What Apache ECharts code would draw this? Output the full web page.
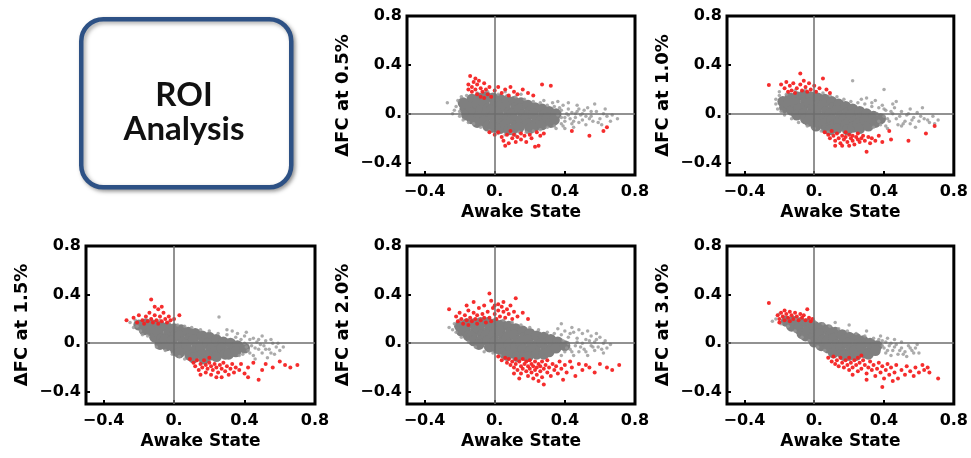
<!DOCTYPE html>
<html>
<head>
<meta charset="utf-8">
<script src="https://cdn.jsdelivr.net/npm/echarts@6/dist/echarts.min.js"></script>
<style>
  html, body { margin: 0; padding: 0; background: #fff; }
  #chart { width: 971px; height: 458px; }
</style>
</head>
<body>
<div id="chart"></div>
<script>
// Shared axis ticks and their printed text
const tickValues = [-0.4, 0, 0.4, 0.8];
const tickText = ["\u22120.4", "0.", "0.4", "0.8"];
const xTitle = "Awake State";
const panelTitles = ["\u0394FC at 0.5%", "\u0394FC at 1.0%", "\u0394FC at 1.5%", "\u0394FC at 2.0%", "\u0394FC at 3.0%"];

// ---- 0.5% ----
const core05 = [
  [-0.17,0.04],[-0.18,0.09],[-0.16,-0.01],
  [-0.13,0.12],[-0.14,0.06],[-0.12,0.01],[-0.13,-0.04],
  [-0.09,0.13],[-0.10,0.08],[-0.08,0.03],[-0.09,-0.02],[-0.10,-0.07],
  [-0.05,0.14],[-0.06,0.09],[-0.04,0.04],[-0.05,-0.01],[-0.06,-0.06],[-0.04,-0.10],
  [-0.01,0.13],[0.00,0.08],[-0.02,0.03],[-0.01,-0.02],[0.00,-0.07],[-0.01,-0.11],
  [0.03,0.12],[0.04,0.07],[0.02,0.02],[0.03,-0.03],[0.04,-0.08],[0.03,-0.12],
  [0.07,0.11],[0.06,0.06],[0.08,0.01],[0.07,-0.04],[0.06,-0.09],[0.08,-0.13],
  [0.11,0.10],[0.12,0.05],[0.10,0.00],[0.11,-0.05],[0.12,-0.10],[0.10,-0.13],
  [0.15,0.09],[0.14,0.04],[0.16,-0.01],[0.15,-0.06],[0.14,-0.11],
  [0.19,0.07],[0.20,0.02],[0.18,-0.03],[0.19,-0.08],[0.20,-0.12],
  [0.23,0.05],[0.22,0.00],[0.24,-0.05],[0.23,-0.10],
  [0.27,0.04],[0.28,-0.01],[0.26,-0.06],[0.27,-0.09],
  [0.31,0.02],[0.30,-0.03],[0.32,-0.07],
  [0.35,0.00],[0.34,-0.05]
];
const spread05 = [
  [-0.27,0.09],[-0.22,0.06],[-0.21,0.11],[-0.20,0.02],[-0.23,0.03],[-0.19,0.14],[-0.16,0.15],[-0.20,-0.02],
  [-0.10,0.17],[-0.04,0.18],[0.02,0.16],[0.07,0.15],[0.12,0.14],[0.17,0.12],[0.22,0.10],[0.26,0.09],
  [0.30,0.07],[0.34,0.06],[0.06,0.18],[0.15,0.16],
  [-0.12,-0.08],[-0.08,-0.11],[-0.03,-0.14],[0.02,-0.16],[0.06,-0.17],[0.10,-0.16],[0.14,-0.15],
  [0.18,-0.15],[0.22,-0.14],[0.26,-0.13],[0.30,-0.11],[0.34,-0.10],
  [0.38,-0.08],[0.38,-0.03],[0.38,0.03],[0.40,-0.06],[0.42,-0.01],[0.42,0.04],[0.44,-0.08],
  [0.46,-0.03],[0.47,0.02],[0.50,-0.05],[0.50,0.00],[0.52,-0.09],[0.53,0.05],[0.55,-0.02],
  [0.56,-0.06],[0.58,0.02],[0.60,-0.04],[0.62,0.00],[0.64,-0.02],[0.66,-0.06],[0.70,-0.04],
  [0.57,0.08],[0.47,0.07],[0.42,0.09],[0.36,0.10],[0.61,-0.09],[0.45,-0.11],[0.40,-0.12],
  [0.36,-0.01],[0.37,0.05],[0.39,-0.10],[0.41,0.00],[0.43,-0.04],[0.44,0.01],[0.48,-0.07],
  [0.49,-0.01],[0.51,0.03],[0.54,-0.04],
  [0.39,0.07],[0.45,-0.06],[0.48,0.04],[0.52,-0.02],[0.55,0.02],[0.59,-0.07],[0.63,0.04],
  [0.67,-0.01],[0.40,-0.03],[0.46,0.00],[0.35,-0.12],[0.33,0.09],[0.28,0.11],[-0.24,0.00],
  [-0.18,-0.05],[-0.15,-0.07],[0.12,-0.18],[0.20,-0.16]
];
const red05 = [
  [-0.14,0.31],[-0.15,0.24],[-0.13,0.22],[-0.12,0.26],[-0.11,0.20],[-0.10,0.24],[-0.09,0.27],
  [-0.08,0.21],[-0.07,0.18],[-0.06,0.25],[-0.05,0.20],[-0.04,0.16],[-0.13,0.18],[-0.10,0.16],
  [-0.03,0.22],[-0.02,0.14],[-0.08,0.14],[-0.06,0.13],[-0.15,0.20],[-0.11,0.29],
  [0.00,0.19],[0.02,0.22],[0.04,0.17],[0.06,0.20],[0.09,0.22],[0.11,0.18],[0.13,0.16],
  [0.16,0.20],[0.19,0.17],[0.22,0.15],[0.27,0.24],[0.32,0.23],[0.08,0.15],
  [0.02,-0.15],[0.04,-0.19],[0.05,-0.22],[0.07,-0.17],[0.08,-0.24],[0.10,-0.20],[0.11,-0.17],
  [0.12,-0.23],[0.13,-0.19],[0.15,-0.16],[0.15,-0.21],[0.17,-0.18],[0.18,-0.23],[0.20,-0.17],
  [0.21,-0.20],[0.23,-0.27],[0.24,-0.15],[0.26,-0.18],[0.28,-0.16],[0.25,-0.26],[0.09,-0.14],
  [0.06,-0.26],[-0.03,-0.15],[0.00,-0.17],
  [0.54,-0.18],[0.62,-0.14],[0.64,-0.11],[0.44,-0.14]
];

// ---- 1.0% ----
const core10 = [
  [-0.18,0.10],[-0.17,0.05],
  [-0.14,0.13],[-0.15,0.08],[-0.13,0.03],
  [-0.10,0.14],[-0.11,0.09],[-0.09,0.04],[-0.10,-0.01],
  [-0.06,0.15],[-0.05,0.10],[-0.07,0.05],[-0.06,0.00],[-0.05,-0.04],
  [-0.02,0.14],[-0.03,0.09],[-0.01,0.04],[-0.02,-0.01],[-0.03,-0.06],
  [0.02,0.13],[0.03,0.08],[0.01,0.03],[0.02,-0.02],[0.03,-0.07],[0.01,-0.10],
  [0.06,0.12],[0.05,0.07],[0.07,0.02],[0.06,-0.03],[0.05,-0.08],[0.07,-0.12],
  [0.10,0.10],[0.11,0.05],[0.09,0.00],[0.10,-0.05],[0.11,-0.10],[0.09,-0.13],
  [0.14,0.08],[0.13,0.03],[0.15,-0.02],[0.14,-0.07],[0.13,-0.12],
  [0.18,0.06],[0.19,0.01],[0.17,-0.04],[0.18,-0.09],[0.19,-0.13],
  [0.22,0.04],[0.21,-0.01],[0.23,-0.06],[0.22,-0.11],
  [0.26,0.02],[0.27,-0.03],[0.25,-0.08],[0.26,-0.12],
  [0.30,0.00],[0.29,-0.05],[0.31,-0.10],
  [0.34,-0.02],[0.35,-0.07],
  [0.38,-0.04]
];
const spread10 = [
  [-0.22,0.12],[-0.22,0.08],[-0.20,0.15],[-0.19,0.02],[-0.16,0.16],[-0.17,-0.01],
  [-0.11,0.19],[-0.05,0.20],[0.01,0.18],[0.05,0.17],[0.09,0.15],[0.13,0.14],[0.17,0.12],
  [0.21,0.10],[0.25,0.09],[0.29,0.08],[0.33,0.06],[0.37,0.05],[0.22,0.27],[0.40,0.20],
  [0.30,0.13],[0.45,0.08],[0.35,0.11],
  [-0.13,-0.04],[-0.09,-0.07],[-0.04,-0.10],[0.00,-0.12],[0.04,-0.14],[0.08,-0.15],
  [0.34,-0.11],[0.38,-0.09],[0.42,-0.12],
  [0.40,-0.02],[0.41,0.03],[0.43,-0.06],[0.45,0.00],[0.47,-0.04],[0.48,-0.09],[0.50,0.02],
  [0.52,-0.06],[0.53,-0.01],[0.55,-0.08],[0.57,-0.03],[0.59,0.01],[0.60,-0.06],[0.62,0.05],
  [0.63,-0.04],[0.66,-0.07],[0.68,-0.02],[0.71,-0.05],[0.58,-0.11],[0.46,0.05],[0.39,0.07],
  [0.36,0.00],[0.42,-0.04],[0.50,-0.10],[0.55,0.04],
  [0.41,-0.10],[0.44,0.02],[0.49,-0.02],[0.51,-0.08],[0.54,0.00],[0.56,-0.05],[0.61,-0.02],
  [0.65,-0.05],[0.69,-0.08],[0.40,0.04],[0.37,-0.06],[0.33,0.09],[0.27,0.12],[-0.21,0.04],
  [-0.20,0.18],[0.47,0.10]
];
const red10 = [
  [-0.26,0.235],[-0.19,0.24],[-0.17,0.21],[-0.16,0.26],[-0.14,0.23],[-0.13,0.19],[-0.12,0.25],
  [-0.10,0.21],[-0.08,0.33],[-0.08,0.24],[-0.07,0.19],[-0.06,0.27],[-0.05,0.22],[-0.04,0.18],
  [-0.03,0.25],[-0.02,0.20],[0.00,0.23],[0.01,0.18],[0.05,0.29],[0.03,0.21],[0.07,0.20],
  [0.09,0.17],[-0.15,0.18],[-0.11,0.17],
  [0.06,-0.15],[0.08,-0.17],[0.09,-0.20],[0.10,-0.14],[0.11,-0.18],[0.12,-0.22],[0.13,-0.16],
  [0.14,-0.20],[0.15,-0.24],[0.16,-0.18],[0.17,-0.21],[0.18,-0.15],[0.18,-0.19],[0.19,-0.23],
  [0.20,-0.17],[0.21,-0.20],[0.22,-0.22],[0.22,-0.18],[0.23,-0.25],[0.24,-0.19],[0.25,-0.21],
  [0.25,-0.16],[0.26,-0.23],[0.27,-0.20],[0.28,-0.18],[0.29,-0.22],[0.30,-0.31],[0.31,-0.19],
  [0.32,-0.24],[0.33,-0.20],[0.20,-0.26],[0.16,-0.26],[0.12,-0.26],[0.35,-0.22],[0.39,-0.23],
  [0.43,-0.14],[0.54,-0.22],[0.64,-0.16],[0.69,-0.10],[0.37,-0.18],[0.44,-0.21]
];

// ---- 1.5% ----
const core15 = [
  [-0.20,0.15],
  [-0.16,0.16],[-0.17,0.11],
  [-0.12,0.15],[-0.13,0.10],[-0.11,0.05],
  [-0.08,0.14],[-0.09,0.09],[-0.07,0.04],[-0.08,-0.01],
  [-0.04,0.13],[-0.03,0.08],[-0.05,0.03],[-0.04,-0.02],
  [0.00,0.12],[0.01,0.07],[-0.01,0.02],[0.00,-0.03],[0.01,-0.06],
  [0.04,0.11],[0.03,0.06],[0.05,0.01],[0.04,-0.04],[0.03,-0.08],
  [0.08,0.09],[0.09,0.04],[0.07,-0.01],[0.08,-0.06],[0.09,-0.10],
  [0.12,0.08],[0.11,0.03],[0.13,-0.02],[0.12,-0.07],[0.11,-0.12],
  [0.16,0.06],[0.17,0.01],[0.15,-0.04],[0.16,-0.09],[0.17,-0.13],
  [0.20,0.05],[0.19,0.00],[0.21,-0.05],[0.20,-0.10],
  [0.24,0.03],[0.25,-0.02],[0.23,-0.07],[0.24,-0.11],
  [0.28,0.01],[0.27,-0.04],[0.29,-0.09],
  [0.32,0.00],[0.33,-0.05],[0.31,-0.09],
  [0.36,-0.02],[0.35,-0.07],
  [0.40,-0.04]
];
const spread15 = [
  [-0.25,0.17],[-0.23,0.13],[-0.22,0.19],[-0.19,0.10],[-0.15,0.06],
  [-0.13,0.20],[-0.08,0.19],[-0.03,0.17],[0.02,0.15],[0.06,0.14],[0.10,0.13],[0.15,0.11],
  [0.20,0.10],[0.25,0.08],[0.30,0.07],[0.35,0.05],[0.255,0.215],[0.30,0.11],[0.40,0.06],
  [0.45,0.04],[0.50,0.06],[0.55,0.03],
  [-0.10,-0.03],[-0.05,-0.06],[-0.01,-0.09],[0.03,-0.11],[0.06,-0.13],
  [0.40,0.00],[0.42,-0.06],[0.44,-0.02],[0.45,-0.10],[0.47,0.01],[0.48,-0.05],[0.50,-0.08],
  [0.51,-0.02],[0.53,-0.12],[0.54,-0.05],[0.56,0.00],[0.57,-0.09],[0.52,0.02],[0.43,0.03],
  [0.38,0.03],[0.39,-0.09],[0.46,-0.13],[0.60,-0.06],[0.58,-0.03],
  [0.41,-0.03],[0.43,-0.08],[0.46,-0.04],[0.49,-0.01],[0.52,-0.05],[0.55,-0.08],[0.59,0.00],
  [0.62,-0.03],[0.37,-0.10],[0.36,0.08],[0.41,0.09],[0.33,0.10],[-0.21,0.14],[-0.18,0.07],
  [0.48,0.03]
];
const red15 = [
  [-0.27,0.19],[-0.23,0.21],[-0.21,0.17],[-0.20,0.23],[-0.18,0.19],[-0.17,0.16],[-0.16,0.22],
  [-0.15,0.18],[-0.14,0.25],[-0.13,0.36],[-0.13,0.20],[-0.12,0.17],[-0.11,0.23],[-0.10,0.19],
  [-0.09,0.28],[-0.09,0.16],[-0.08,0.22],[-0.07,0.18],[-0.06,0.25],[-0.05,0.20],[-0.04,0.17],
  [-0.03,0.22],[-0.02,0.19],[0.03,0.23],[0.00,0.20],[-0.11,0.30],[-0.07,0.30],
  [0.09,-0.13],[0.11,-0.16],[0.12,-0.19],[0.13,-0.14],[0.14,-0.22],[0.15,-0.17],[0.16,-0.20],
  [0.17,-0.14],[0.18,-0.24],[0.18,-0.18],[0.19,-0.21],[0.20,-0.16],[0.21,-0.19],[0.21,-0.26],
  [0.22,-0.22],[0.23,-0.17],[0.24,-0.20],[0.25,-0.24],[0.26,-0.18],[0.27,-0.28],[0.27,-0.21],
  [0.28,-0.16],[0.29,-0.23],[0.30,-0.19],[0.31,-0.26],[0.32,-0.21],[0.33,-0.17],[0.34,-0.24],
  [0.35,-0.20],[0.37,-0.22],[0.38,-0.17],[0.40,-0.25],[0.42,-0.28],[0.42,-0.20],[0.45,-0.16],
  [0.48,-0.30],[0.50,-0.22],[0.52,-0.17],[0.56,-0.20],[0.60,-0.15],[0.63,-0.18],[0.66,-0.20],
  [0.70,-0.18],[0.15,-0.26],[0.24,-0.28],[0.20,-0.12]
];

// ---- 2.0% ----
const core20 = [
  [-0.20,0.14],[-0.19,0.10],
  [-0.16,0.16],[-0.17,0.11],[-0.15,0.06],
  [-0.12,0.16],[-0.11,0.11],[-0.13,0.06],[-0.12,0.02],
  [-0.08,0.17],[-0.09,0.12],[-0.07,0.07],[-0.08,0.02],[-0.09,-0.01],
  [-0.04,0.17],[-0.03,0.12],[-0.05,0.07],[-0.04,0.02],[-0.03,-0.03],
  [0.00,0.16],[0.01,0.11],[-0.01,0.06],[0.00,0.01],[0.01,-0.04],
  [0.04,0.15],[0.03,0.10],[0.05,0.05],[0.04,0.00],[0.03,-0.05],[0.05,-0.08],
  [0.08,0.14],[0.09,0.09],[0.07,0.04],[0.08,-0.01],[0.09,-0.06],[0.07,-0.10],
  [0.12,0.12],[0.11,0.07],[0.13,0.02],[0.12,-0.03],[0.11,-0.08],[0.13,-0.11],
  [0.16,0.10],[0.17,0.05],[0.15,0.00],[0.16,-0.05],[0.17,-0.10],
  [0.20,0.08],[0.19,0.03],[0.21,-0.02],[0.20,-0.07],[0.19,-0.11],
  [0.24,0.06],[0.25,0.01],[0.23,-0.04],[0.24,-0.09],
  [0.28,0.05],[0.27,0.00],[0.29,-0.05],[0.28,-0.09],
  [0.32,0.03],[0.33,-0.02],[0.31,-0.07],
  [0.36,0.01],[0.35,-0.04],
  [0.40,-0.02]
];
const spread20 = [
  [-0.26,0.13],[-0.23,0.16],[-0.22,0.09],[-0.19,0.05],[-0.15,0.01],[-0.11,-0.03],
  [0.05,0.19],[0.10,0.17],[0.15,0.15],[0.20,0.13],[0.25,0.11],[0.30,0.09],[0.34,0.08],
  [0.38,0.07],[0.42,0.05],[0.36,0.12],[0.40,0.10],[0.45,0.09],[0.50,0.08],[0.55,0.06],
  [0.60,0.05],[0.47,0.04],[0.52,0.03],[0.57,0.01],[0.62,0.00],[0.44,0.13],[0.38,0.16],
  [0.48,0.11],
  [-0.06,-0.07],[-0.01,-0.08],[0.03,-0.10],
  [0.40,-0.07],[0.42,0.00],[0.43,-0.05],[0.45,-0.10],[0.46,-0.02],[0.48,-0.07],[0.50,0.00],
  [0.51,-0.05],[0.53,-0.10],[0.55,-0.02],[0.57,-0.06],[0.59,-0.03],[0.62,-0.08],[0.64,-0.04],
  [0.38,-0.10],[0.66,-0.01],
  [0.41,-0.04],[0.44,-0.07],[0.47,0.01],[0.49,-0.03],[0.52,-0.07],[0.54,0.02],[0.56,-0.03],
  [0.58,0.03],[0.61,-0.05],[0.63,0.02],[0.39,0.02],[0.43,0.08],[0.53,0.10],[0.58,0.08],
  [-0.24,0.11],[-0.20,0.19]
];
const red20 = [
  [-0.26,0.28],[-0.22,0.22],[-0.21,0.18],[-0.20,0.25],[-0.19,0.20],[-0.18,0.16],[-0.17,0.23],
  [-0.16,0.19],[-0.15,0.27],[-0.15,0.15],[-0.14,0.21],[-0.13,0.18],[-0.12,0.25],[-0.12,0.34],
  [-0.11,0.20],[-0.10,0.16],[-0.10,0.23],[-0.09,0.29],[-0.08,0.19],[-0.07,0.24],[-0.06,0.21],
  [-0.06,0.31],[-0.05,0.17],[-0.04,0.26],[-0.03,0.41],[-0.03,0.21],[-0.02,0.35],[-0.02,0.18],
  [-0.01,0.29],[0.00,0.24],[0.01,0.20],[0.02,0.32],[0.02,0.27],[0.03,0.22],[0.04,0.30],
  [0.05,0.26],[0.06,0.21],[0.07,0.28],[0.08,0.24],[0.09,0.31],[0.10,0.20],[0.11,0.26],
  [0.12,0.37],[0.13,0.22],[0.16,0.25],[0.19,0.20],[0.05,0.34],[-0.16,0.31],[0.00,0.31],
  [0.02,-0.11],[0.04,-0.14],[0.06,-0.12],[0.07,-0.16],[0.08,-0.13],[0.09,-0.18],[0.10,-0.15],
  [0.11,-0.20],[0.12,-0.13],[0.12,-0.17],[0.13,-0.22],[0.14,-0.15],[0.15,-0.19],[0.15,-0.25],
  [0.16,-0.13],[0.16,-0.21],[0.17,-0.17],[0.18,-0.23],[0.18,-0.15],[0.19,-0.19],[0.19,-0.27],
  [0.20,-0.21],[0.20,-0.14],[0.21,-0.17],[0.21,-0.24],[0.22,-0.19],[0.22,-0.29],[0.23,-0.22],
  [0.23,-0.15],[0.24,-0.20],[0.24,-0.26],[0.25,-0.17],[0.26,-0.23],[0.26,-0.19],[0.27,-0.28],
  [0.27,-0.15],[0.28,-0.21],[0.28,-0.34],[0.29,-0.18],[0.30,-0.24],[0.30,-0.14],[0.31,-0.20],
  [0.32,-0.27],[0.33,-0.17],[0.34,-0.22],[0.35,-0.19],[0.36,-0.25],[0.37,-0.15],[0.38,-0.21],
  [0.39,-0.30],[0.40,-0.18],[0.41,-0.24],[0.43,-0.15],[0.44,-0.20],[0.46,-0.27],[0.48,-0.17],
  [0.50,-0.22],[0.52,-0.18],[0.54,-0.20],[0.57,-0.24],[0.60,-0.17],[0.64,-0.20],[0.67,-0.22],
  [0.71,-0.18],[0.14,-0.29],[0.25,-0.31],[0.11,-0.25]
];

// ---- 3.0% ----
const core30 = [
  [-0.16,0.18],
  [-0.12,0.18],[-0.13,0.14],
  [-0.08,0.17],[-0.09,0.12],[-0.07,0.08],
  [-0.04,0.16],[-0.03,0.11],[-0.05,0.06],
  [0.00,0.14],[0.01,0.09],[-0.01,0.04],[0.00,0.01],
  [0.04,0.13],[0.03,0.08],[0.05,0.03],[0.04,-0.02],
  [0.08,0.11],[0.09,0.06],[0.07,0.01],[0.08,-0.04],
  [0.12,0.09],[0.11,0.04],[0.13,-0.01],[0.12,-0.06],[0.11,-0.08],
  [0.16,0.07],[0.17,0.02],[0.15,-0.03],[0.16,-0.08],[0.17,-0.10],
  [0.20,0.05],[0.19,0.00],[0.21,-0.05],[0.20,-0.10],
  [0.24,0.04],[0.25,-0.01],[0.23,-0.06],[0.24,-0.10],
  [0.28,0.02],[0.27,-0.03],[0.29,-0.08],
  [0.32,0.00],[0.33,-0.05],[0.31,-0.09],
  [0.36,-0.02],[0.35,-0.06]
];
const spread30 = [
  [-0.22,0.20],[-0.19,0.16],[-0.18,0.22],[-0.15,0.14],[-0.11,0.10],[-0.07,0.05],[-0.03,0.02],
  [0.02,-0.03],[0.06,-0.06],[-0.10,0.20],[-0.05,0.19],[0.00,0.18],[0.05,0.16],[0.09,0.14],
  [0.14,0.12],[0.19,0.10],[0.24,0.08],[0.29,0.06],[0.34,0.04],[0.39,0.02],[0.44,0.00],
  [0.38,0.06],[0.30,0.10],[0.12,0.17],[0.20,0.15],
  [0.40,-0.04],[0.41,-0.08],[0.43,-0.02],[0.45,-0.06],[0.47,-0.01],[0.48,-0.09],[0.50,-0.04],
  [0.52,-0.07],[0.54,-0.02],[0.56,-0.06],[0.58,-0.04],[0.60,-0.08],[0.50,0.01],[0.46,0.03],
  [0.53,-0.11],[0.42,0.04],
  [0.42,-0.06],[0.44,-0.10],[0.46,-0.03],[0.49,-0.06],[0.51,-0.09],[0.55,-0.04],[0.57,-0.08],
  [0.59,-0.01],[0.39,-0.02],[0.37,0.03],[0.41,0.01],[-0.20,0.24],[-0.24,0.18]
];
const red30 = [
  [-0.26,0.33],[-0.21,0.23],[-0.20,0.20],[-0.19,0.25],[-0.18,0.22],[-0.17,0.19],[-0.16,0.24],
  [-0.15,0.21],[-0.14,0.26],[-0.14,0.18],[-0.13,0.23],[-0.12,0.20],[-0.11,0.25],[-0.10,0.22],
  [-0.09,0.19],[-0.08,0.24],[-0.07,0.21],[-0.06,0.23],[-0.05,0.19],[-0.04,0.28],[-0.03,0.21],
  [-0.02,0.18],[-0.01,0.20],[-0.17,0.27],[-0.20,0.17],
  [0.08,-0.12],[0.10,-0.15],[0.11,-0.11],[0.12,-0.17],[0.13,-0.14],[0.14,-0.19],[0.15,-0.12],
  [0.16,-0.16],[0.17,-0.20],[0.18,-0.14],[0.19,-0.18],[0.20,-0.22],[0.20,-0.12],[0.21,-0.16],
  [0.22,-0.20],[0.23,-0.14],[0.24,-0.18],[0.25,-0.23],[0.25,-0.12],[0.26,-0.16],[0.27,-0.21],
  [0.28,-0.14],[0.29,-0.18],[0.30,-0.25],[0.31,-0.20],[0.32,-0.15],[0.33,-0.22],[0.34,-0.18],
  [0.35,-0.27],[0.36,-0.21],[0.37,-0.16],[0.38,-0.24],[0.39,-0.19],[0.40,-0.29],[0.41,-0.22],
  [0.42,-0.17],[0.43,-0.26],[0.44,-0.20],[0.46,-0.24],[0.47,-0.18],[0.48,-0.29],[0.50,-0.22],
  [0.52,-0.26],[0.53,-0.19],[0.55,-0.23],[0.57,-0.27],[0.58,-0.20],[0.60,-0.24],[0.62,-0.18],
  [0.63,-0.22],[0.65,-0.20],[0.66,-0.24],[0.71,-0.29],[0.39,-0.36],[0.45,-0.31],[0.30,-0.30],
  [0.22,-0.26],[0.27,-0.10]
];

const coreSets = [core05, core10, core15, core20, core30];
const spreadSets = [spread05, spread10, spread15, spread20, spread30];
const redSets = [red05, red10, red15, red20, red30];

// Plot rectangles, in pixels
const rects = [
  { left: 407, top: 16, width: 228, height: 159 },
  { left: 727, top: 16, width: 228, height: 159 },
  { left: 86,  top: 246, width: 229, height: 158 },
  { left: 407, top: 246, width: 228, height: 158 },
  { left: 727, top: 246, width: 228, height: 158 }
];

const FONT = "DejaVu Sans";
function tickLabel(v) {
  for (let i = 0; i < tickValues.length; i++) {
    if (Math.abs(tickValues[i] - v) < 1e-6) return tickText[i];
  }
  return "";
}

const grids = [], xAxes = [], yAxes = [], series = [];
rects.forEach((r, i) => {
  grids.push(Object.assign({
    show: true, borderColor: "#000", borderWidth: 3, backgroundColor: "#fff", containLabel: false
  }, r));
  const common = {
    type: "value", gridIndex: i, min: -0.5, max: 0.8,
    axisLine: { show: false, onZero: false },
    splitLine: { show: false },
    axisTick: { show: true, inside: true, length: 4, customValues: tickValues, lineStyle: { color: "#000", width: 2 } },
    axisLabel: {
      customValues: tickValues, formatter: tickLabel, color: "#000",
      fontFamily: FONT, fontWeight: "bold", fontSize: 16
    }
  };
  xAxes.push(Object.assign({}, common, {
    position: "bottom",
    axisLabel: Object.assign({}, common.axisLabel, { margin: 9 }),
    name: xTitle, nameLocation: "middle", nameGap: 29,
    nameTextStyle: { fontFamily: FONT, fontWeight: "bold", fontSize: 17, color: "#000" }
  }));
  yAxes.push(Object.assign({}, common, {
    position: "left",
    axisLabel: Object.assign({}, common.axisLabel, { margin: 5 }),
    name: panelTitles[i], nameLocation: "middle", nameGap: 55,
    nameTextStyle: { fontFamily: FONT, fontWeight: "bold", fontSize: 18, color: "#000" }
  }));
  // dense body of the cloud
  series.push({
    type: "scatter", xAxisIndex: i, yAxisIndex: i, data: coreSets[i],
    symbolSize: 11, itemStyle: { color: "#7f7f7f", opacity: 1 }, silent: true, z: 2
  });
  // loose points around the body, plus the zero reference lines
  series.push({
    type: "scatter", xAxisIndex: i, yAxisIndex: i, data: spreadSets[i],
    symbolSize: 3.5, itemStyle: { color: "#969696", opacity: 0.8 }, silent: true, z: 3,
    markLine: {
      silent: true, symbol: "none", label: { show: false },
      lineStyle: { color: "#6e6e6e", width: 1.5, type: "solid" },
      data: [{ xAxis: 0 }, { yAxis: 0 }]
    }
  });
  // highlighted connections
  series.push({
    type: "scatter", xAxisIndex: i, yAxisIndex: i, data: redSets[i],
    symbolSize: 4, itemStyle: { color: "#f42222", opacity: 0.95 }, silent: true, z: 4
  });
});

const chart = echarts.init(document.getElementById("chart"), null, { renderer: "canvas" });
chart.setOption({
  animation: false,
  backgroundColor: "#fff",
  grid: grids, xAxis: xAxes, yAxis: yAxes, series: series,
  graphic: [
    {
      type: "rect", left: 79, top: 17, z: 10,
      shape: { width: 210, height: 168, r: 22 },
      style: {
        fill: "#fff", stroke: "#2d5185", lineWidth: 4.5,
        shadowColor: "rgba(0,0,0,0.35)", shadowBlur: 4, shadowOffsetX: 2, shadowOffsetY: 2
      }
    },
    {
      type: "text", x: 184, y: 95, z: 11,
      style: {
        text: "ROI", fill: "#111", align: "center", verticalAlign: "middle",
        font: "bold 33px Lato",
        shadowColor: "rgba(0,0,0,0.35)", shadowBlur: 3, shadowOffsetX: 1, shadowOffsetY: 1
      }
    },
    {
      type: "text", x: 184, y: 129, z: 11,
      style: {
        text: "Analysis", fill: "#111", align: "center", verticalAlign: "middle",
        font: "bold 33px Lato",
        shadowColor: "rgba(0,0,0,0.35)", shadowBlur: 3, shadowOffsetX: 1, shadowOffsetY: 1
      }
    }
  ]
});
</script>
</body>
</html>
